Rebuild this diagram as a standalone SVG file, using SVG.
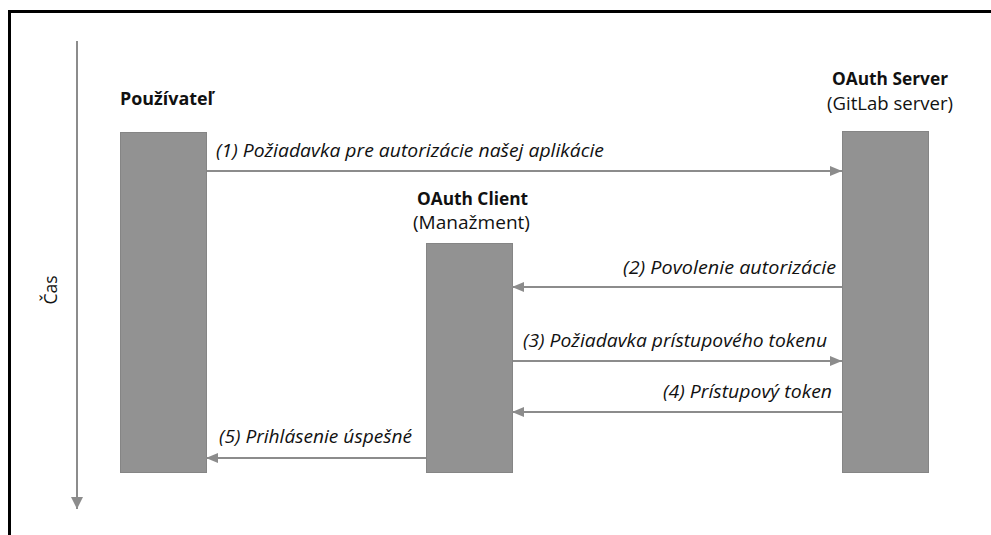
<svg xmlns="http://www.w3.org/2000/svg" width="991" height="535" viewBox="0 0 991 535">
  <style>
    .frame { fill: #ffffff; stroke: #000000; stroke-width: 3; }
    .bar { fill: #929292; stroke: #858585; stroke-width: 1; }
    .msg { stroke: #8c8c8c; stroke-width: 2; fill: none; marker-end: url(#arrow); }
    .axis { stroke: #8c8c8c; stroke-width: 2; fill: none; marker-end: url(#arrowBig); }
    .title { font-family: "Open Sans", "Noto Sans", sans-serif; font-weight: bold; font-size: 17px; fill: #111111; }
    .sub { font-family: "Open Sans", "Noto Sans", sans-serif; font-size: 17.5px; fill: #111111; }
    .lbl { font-family: "Open Sans", "Noto Sans", sans-serif; font-style: italic; font-size: 18px; fill: #111111; }
  </style>
  <defs>
    <marker id="arrow" viewBox="0 0 12 10" refX="12" refY="5" markerWidth="12" markerHeight="10" markerUnits="userSpaceOnUse" orient="auto">
      <path d="M0,0 L12,5 L0,10 Z" fill="#8c8c8c"/>
    </marker>
    <marker id="arrowBig" viewBox="0 0 12 12" refX="12" refY="6" markerWidth="12" markerHeight="12" markerUnits="userSpaceOnUse" orient="auto">
      <path d="M0,0 L12,6 L0,12 Z" fill="#8c8c8c"/>
    </marker>
  </defs>

  <!-- outer frame -->
  <rect class="frame" x="9.5" y="11.5" width="1000" height="560"/>

  <!-- time axis -->
  <g id="time-axis">
    <line class="axis" x1="77" y1="41" x2="77" y2="509"/>
    <text class="sub" transform="translate(57,290) rotate(-90)" text-anchor="middle">Čas</text>
  </g>

  <!-- participants -->
  <g id="user">
    <text class="title" x="120" y="105" textLength="93" lengthAdjust="spacingAndGlyphs">Používateľ</text>
    <rect class="bar" x="120.5" y="132.5" width="86" height="340"/>
  </g>

  <g id="oauth-server">
    <text class="title" x="832" y="85" textLength="116" lengthAdjust="spacingAndGlyphs">OAuth Server</text>
    <text class="sub" x="827" y="110" textLength="126" lengthAdjust="spacingAndGlyphs">(GitLab server)</text>
    <rect class="bar" x="842.5" y="131.5" width="86" height="341"/>
  </g>

  <g id="oauth-client">
    <text class="title" x="417" y="205" textLength="111" lengthAdjust="spacingAndGlyphs">OAuth Client</text>
    <text class="sub" x="413" y="229" textLength="117" lengthAdjust="spacingAndGlyphs">(Manažment)</text>
    <rect class="bar" x="426.5" y="243.5" width="86" height="229"/>
  </g>

  <!-- messages -->
  <g id="connectors">
    <line class="msg" x1="207" y1="171" x2="842" y2="171"/>
    <line class="msg" x1="842" y1="287" x2="512" y2="287"/>
    <line class="msg" x1="513" y1="361" x2="842" y2="361"/>
    <line class="msg" x1="842" y1="412" x2="512" y2="412"/>
    <line class="msg" x1="426" y1="458" x2="206" y2="458"/>
  </g>

  <g id="labels">
    <text class="lbl" x="216" y="157" textLength="388" lengthAdjust="spacingAndGlyphs">(1) Požiadavka pre autorizácie našej aplikácie</text>
    <text class="lbl" x="623" y="274" textLength="213" lengthAdjust="spacingAndGlyphs">(2) Povolenie autorizácie</text>
    <text class="lbl" x="523" y="347" textLength="304" lengthAdjust="spacingAndGlyphs">(3) Požiadavka prístupového tokenu</text>
    <text class="lbl" x="663" y="398" textLength="169" lengthAdjust="spacingAndGlyphs">(4) Prístupový token</text>
    <text class="lbl" x="219" y="443" textLength="193" lengthAdjust="spacingAndGlyphs">(5) Prihlásenie úspešné</text>
  </g>
</svg>
